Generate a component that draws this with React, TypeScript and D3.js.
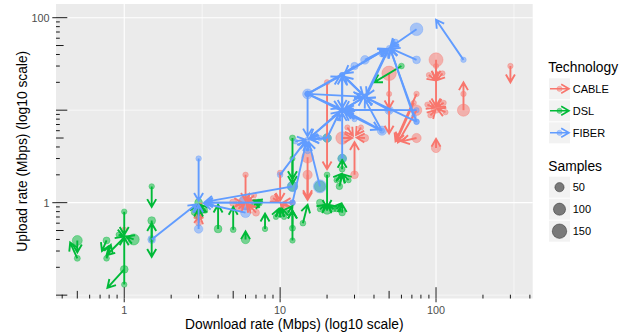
import React, { useEffect, useRef } from 'react';
import * as d3 from 'd3';

// each row: [download from, upload from, download to, upload to, samples]
const cableArrows = [
  [1, 0.51, 1, 0.51, 3],
  [3, 0.88, 3.1, 0.97, 25],
  [3, 0.7, 3, 0.82, 20],
  [3, 0.6, 3.05, 0.72, 8],
  [5, 1, 5.7, 1, 25],
  [6, 2, 6, 1.05, 5],
  [6, 1, 6, 1, 150],
  [7, 0.78, 6.3, 0.95, 20],
  [6.8, 1.2, 6.15, 1.03, 3],
  [5.4, 0.86, 5.9, 0.97, 3],
  [6.4, 0.88, 6.1, 0.97, 3],
  [10, 2.1, 10, 1.05, 5],
  [12, 1, 10.4, 1, 3],
  [9, 1.12, 9.8, 1.02, 3],
  [10.6, 0.88, 10.1, 0.97, 3],
  [15, 3.1, 15, 1.07, 90],
  [15, 2, 15, 1.12, 50],
  [20, 20, 20, 2.3, 5],
  [25, 5, 29, 5, 110],
  [35, 5, 31, 5.05, 25],
  [30, 2, 30, 4.5, 30],
  [27, 6.5, 29.3, 5.3, 3],
  [33, 6.5, 30.7, 5.4, 3],
  [50, 25, 50, 5.6, 150],
  [50, 15, 50, 10.5, 3],
  [100, 35, 100, 11, 140],
  [110, 25, 100.8, 21, 3],
  [90, 24, 99, 21, 3],
  [100, 30, 100, 22, 3],
  [100, 10.5, 100, 10.5, 60],
  [115, 9.5, 102, 10.3, 3],
  [88, 11.5, 98, 10.6, 3],
  [92, 8.8, 99, 10, 3],
  [112, 12, 101.5, 10.9, 3],
  [75, 15, 55, 4.6, 5],
  [75, 10, 57, 4.5, 70],
  [72, 12, 56, 4.7, 3],
  [75, 5, 60, 4.6, 50],
  [100, 3.9, 100, 4.9, 50],
  [150, 10, 150, 20, 100],
  [150, 15, 150, 15, 5],
  [300, 30, 300, 20, 5],
];

const dslArrows = [
  [0.5, 0.39, 0.5, 0.29, 60],
  [0.5, 0.25, 0.45, 0.37, 10],
  [0.77, 0.39, 0.72, 0.3, 20],
  [0.77, 0.25, 0.82, 0.35, 8],
  [1, 0.42, 0.77, 0.27, 3],
  [1, 0.8, 1, 0.45, 5],
  [1, 0.13, 1, 0.42, 5],
  [1.15, 0.4, 1.03, 0.43, 80],
  [1, 0.19, 0.78, 0.12, 30],
  [0.92, 0.45, 0.99, 0.43, 3],
  [1.5, 1.5, 1.5, 0.9, 5],
  [1.5, 0.64, 1.5, 0.26, 30],
  [1.5, 0.4, 1.5, 0.6, 3],
  [3, 1, 3, 1, 30],
  [3, 0.72, 3, 0.86, 25],
  [3.3, 0.82, 3.05, 0.95, 3],
  [3, 0.85, 3.35, 0.8, 15],
  [2.8, 0.78, 2.95, 0.93, 3],
  [4, 0.52, 4, 0.95, 30],
  [5, 0.51, 5, 0.9, 8],
  [6, 0.4, 6, 0.49, 40],
  [7.3, 1, 6.8, 1.05, 25],
  [6.8, 0.95, 7.6, 1.02, 3],
  [8, 0.52, 8, 0.76, 5],
  [10, 0.78, 10, 0.86, 40],
  [10.6, 0.7, 10.3, 0.86, 3],
  [9.4, 0.7, 9.8, 0.86, 3],
  [12, 0.39, 12, 0.82, 5],
  [12, 0.53, 12, 0.82, 10],
  [12, 5, 12, 1.6, 10],
  [12, 3, 12, 1.8, 3],
  [11.2, 0.78, 12, 0.92, 3],
  [14, 0.6, 15, 0.95, 8],
  [20, 2, 20, 0.88, 8],
  [20, 0.82, 20, 0.95, 25],
  [18, 0.85, 19.5, 0.95, 3],
  [22, 0.85, 20.5, 0.95, 3],
  [20, 5, 20, 5, 40],
  [18, 1, 18, 1, 20],
  [24, 1.5, 25, 2.0, 15],
  [27.5, 1.75, 25.3, 2.02, 3],
  [23, 1.75, 24.8, 2.05, 3],
  [25, 2.3, 25, 2.9, 8],
  [25, 0.78, 25, 0.96, 15],
  [23, 0.85, 24.6, 0.98, 3],
  [60, 30, 40, 20, 8],
  [12, 1.5, 12, 1.5, 60],
  [18, 1.5, 18, 1.5, 80],
  [25, 3, 25, 3, 40],
];

const fiberArrows = [
  [1.5, 0.4, 2.9, 0.96, 30],
  [3, 3, 3, 1.05, 5],
  [3, 0.52, 3, 0.95, 40],
  [6, 0.78, 3.25, 0.98, 60],
  [12, 1.5, 3.3, 1.02, 70],
  [12, 1, 3.3, 1.0, 8],
  [6, 1, 3.3, 1.0, 140],
  [10, 2, 14.5, 4.6, 8],
  [12, 1, 14.7, 4.5, 5],
  [18, 1.5, 15.3, 4.5, 120],
  [15, 15, 15, 5.2, 60],
  [25, 10, 15.6, 5.1, 3],
  [12.5, 4.6, 14.5, 4.8, 3],
  [18, 5, 15.6, 4.9, 3],
  [15, 3.6, 15, 4.4, 3],
  [20, 5, 15.8, 4.8, 40],
  [20, 5, 24, 9.5, 3],
  [25, 3, 25, 9.3, 40],
  [15, 4.8, 24, 9.6, 3],
  [35, 14, 26, 10.3, 3],
  [45, 6, 26.5, 9.7, 50],
  [15, 15, 24, 10.5, 3],
  [50, 10, 26, 10, 40],
  [75, 10, 26.5, 10.1, 3],
  [25, 24, 25, 10.6, 3],
  [30, 8, 26, 9.4, 3],
  [25, 10, 34, 13.6, 3],
  [50, 47, 36, 14.5, 3],
  [25, 24, 34, 14.6, 3],
  [75, 7.5, 36, 13.5, 8],
  [45, 6, 35, 13, 3],
  [50, 10, 36, 13.6, 3],
  [15, 15, 33, 14, 3],
  [15, 15, 24, 23, 3],
  [30, 30, 26, 25, 25],
  [25, 10, 25, 23, 3],
  [35, 14, 26, 23, 3],
  [75, 75, 51, 48, 110],
  [75, 35, 52, 46, 30],
  [35, 35, 48, 46, 40],
  [25, 24, 48, 46, 3],
  [15, 15, 48, 46, 3],
  [75, 7.5, 51, 45, 3],
  [35, 14, 49, 45, 3],
  [72, 8.5, 51, 45.5, 3],
  [45, 40, 49, 46, 3],
  [55, 55, 51, 48.5, 3],
  [15, 15, 43, 6.2, 3],
  [150, 35, 100, 95, 5],
];

const technologies = ['CABLE', 'DSL', 'FIBER'];
const techColors = ['#F8766D', '#00BA38', '#619CFF'];
const sampleBreaks = [50, 100, 150];
const xBreaks = [1, 10, 100];
const xMinor = [Math.sqrt(10), Math.sqrt(1000), Math.sqrt(100000)];
const yBreaks = [1, 100];
const yMinor = [0.1, 10];

const W = 631, H = 334;
const panel = { left: 56, right: 532.7, top: 4, bottom: 298.5 };
const font = '"Liberation Sans", Arial, Helvetica, sans-serif';

const radius = (s) => Math.sqrt(6 + 0.31 * s);

const App = () => {
  const ref = useRef();

  useEffect(() => {
    const svg = d3.select(ref.current);
    svg.selectAll('*').remove();

    const x = d3.scaleLog().domain([0.365, 417]).range([panel.left, panel.right]);
    const y = d3.scaleLog().domain([0.092, 140.6]).range([panel.bottom, panel.top]);

    svg.append('rect').attr('width', W).attr('height', H).attr('fill', '#fff');
    svg.append('rect')
      .attr('x', panel.left).attr('y', panel.top)
      .attr('width', panel.right - panel.left).attr('height', panel.bottom - panel.top)
      .attr('fill', '#EBEBEB');

    // grid
    const grid = svg.append('g').attr('stroke', '#fff');
    xMinor.filter(v => x(v) < panel.right).forEach(v => grid.append('line')
      .attr('x1', x(v)).attr('x2', x(v)).attr('y1', panel.top).attr('y2', panel.bottom).attr('stroke-width', 0.6));
    yMinor.forEach(v => grid.append('line')
      .attr('y1', y(v)).attr('y2', y(v)).attr('x1', panel.left).attr('x2', panel.right).attr('stroke-width', 0.6));
    xBreaks.forEach(v => grid.append('line')
      .attr('x1', x(v)).attr('x2', x(v)).attr('y1', panel.top).attr('y2', panel.bottom).attr('stroke-width', 1.1));
    yBreaks.forEach(v => grid.append('line')
      .attr('y1', y(v)).attr('y2', y(v)).attr('x1', panel.left).attr('x2', panel.right).attr('stroke-width', 1.1));

    const rows = [];
    [cableArrows, dslArrows, fiberArrows].forEach((arr, i) => {
      arr.forEach(d => rows.push({ tech: i, x0: d[0], y0: d[1], x1: d[2], y1: d[3], s: d[4] }));
    });

    // points at the start of each arrow
    svg.append('g').selectAll('circle').data(rows).join('circle')
      .attr('cx', d => x(d.x0)).attr('cy', d => y(d.y0))
      .attr('r', d => radius(d.s))
      .attr('fill', d => techColors[d.tech]).attr('fill-opacity', 0.5)
      .attr('stroke', d => techColors[d.tech]).attr('stroke-opacity', 0.5).attr('stroke-width', 0.7);

    const head = (px0, py0, px1, py1, L = 9) => {
      const a = Math.atan2(py1 - py0, px1 - px0);
      const w1 = [px1 - L * Math.cos(a - Math.PI / 6), py1 - L * Math.sin(a - Math.PI / 6)];
      const w2 = [px1 - L * Math.cos(a + Math.PI / 6), py1 - L * Math.sin(a + Math.PI / 6)];
      return `M${w1[0]},${w1[1]}L${px1},${py1}L${w2[0]},${w2[1]}`;
    };

    const seg = svg.append('g').attr('fill', 'none').attr('stroke-width', 1.9);
    rows.forEach(d => {
      const px0 = x(d.x0), py0 = y(d.y0), px1 = x(d.x1), py1 = y(d.y1);
      if (Math.hypot(px1 - px0, py1 - py0) < 1) return;
      seg.append('path')
        .attr('d', `M${px0},${py0}L${px1},${py1}` + head(px0, py0, px1, py1))
        .attr('stroke', techColors[d.tech]);
    });

    // log ticks inside panel
    const lt = svg.append('g').attr('stroke', '#000').attr('stroke-width', 0.9);
    for (let n = -2; n <= 3; n++) {
      for (let k = 1; k <= 9; k++) {
        const v = k * Math.pow(10, n);
        const len = k === 1 ? 11.3 : k === 5 ? 7.6 : 3.8;
        const [xa, xb] = x.domain();
        if (v >= xa && v <= xb) {
          lt.append('line').attr('x1', x(v)).attr('x2', x(v)).attr('y1', panel.bottom).attr('y2', panel.bottom - len);
        }
        const [ya, yb] = y.domain();
        if (v >= ya && v <= yb) {
          lt.append('line').attr('y1', y(v)).attr('y2', y(v)).attr('x1', panel.left).attr('x2', panel.left + len);
        }
      }
    }

    // axes
    const ax = svg.append('g').attr('stroke', '#333').attr('stroke-width', 1.1);
    xBreaks.forEach(v => ax.append('line').attr('x1', x(v)).attr('x2', x(v)).attr('y1', panel.bottom).attr('y2', panel.bottom + 3.7));
    yBreaks.forEach(v => ax.append('line').attr('y1', y(v)).attr('y2', y(v)).attr('x1', panel.left - 3.7).attr('x2', panel.left));

    svg.append('g').selectAll('text').data(xBreaks).join('text')
      .attr('x', d => x(d)).attr('y', 314).attr('text-anchor', 'middle')
      .style('font-family', font).style('font-size', '10.8px').attr('fill', '#4D4D4D')
      .text(d => d);
    svg.append('g').selectAll('text').data(yBreaks).join('text')
      .attr('x', 49.5).attr('y', d => y(d) + 3.9).attr('text-anchor', 'end')
      .style('font-family', font).style('font-size', '10.8px').attr('fill', '#4D4D4D')
      .text(d => d);

    svg.append('text')
      .attr('x', (panel.left + panel.right) / 2).attr('y', 329).attr('text-anchor', 'middle')
      .style('font-family', font).style('font-size', '13.8px').attr('fill', '#000')
      .text('Download rate (Mbps) (log10 scale)');
    svg.append('text')
      .attr('transform', `translate(27, ${(panel.top + panel.bottom) / 2}) rotate(-90)`)
      .attr('text-anchor', 'middle')
      .style('font-family', font).style('font-size', '13.8px').attr('fill', '#000')
      .text('Upload rate (Mbps) (log10 scale)');

    // legends
    const lg = svg.append('g');
    lg.append('text').attr('x', 548.3).attr('y', 72.3)
      .style('font-family', font).style('font-size', '13.8px').text('Technology');
    technologies.forEach((t, i) => {
      const top = 78.3 + i * 22;
      const cy = top + 10.5;
      lg.append('rect').attr('x', 549).attr('y', top).attr('width', 21).attr('height', 21).attr('fill', '#F2F2F2');
      lg.append('circle').attr('cx', 559.5).attr('cy', cy).attr('r', 2.6)
        .attr('fill', techColors[i]).attr('fill-opacity', 0.5)
        .attr('stroke', techColors[i]).attr('stroke-opacity', 0.5).attr('stroke-width', 0.7);
      lg.append('path').attr('fill', 'none').attr('stroke', techColors[i]).attr('stroke-width', 1.6)
        .attr('d', `M550,${cy}L569,${cy}` + head(550, cy, 569, cy));
      lg.append('text').attr('x', 572.7).attr('y', top + 15)
        .style('font-family', font).style('font-size', '11px').text(t);
    });

    lg.append('text').attr('x', 548.3).attr('y', 171)
      .style('font-family', font).style('font-size', '13.8px').text('Samples');
    sampleBreaks.forEach((s, i) => {
      const top = 176.7 + i * 22;
      lg.append('rect').attr('x', 549).attr('y', top).attr('width', 21).attr('height', 21).attr('fill', '#F2F2F2');
      lg.append('circle').attr('cx', 559.5).attr('cy', top + 10.5).attr('r', radius(s))
        .attr('fill', '#000').attr('fill-opacity', 0.5)
        .attr('stroke', '#000').attr('stroke-opacity', 0.5).attr('stroke-width', 0.7);
      lg.append('text').attr('x', 572.7).attr('y', top + 14.5)
        .style('font-family', font).style('font-size', '11px').text(s);
    });
  }, []);

  return (
    <svg ref={ref} width={W} height={H} style={{ position: 'absolute', left: 0, top: 0 }} />
  );
};

export default App;
